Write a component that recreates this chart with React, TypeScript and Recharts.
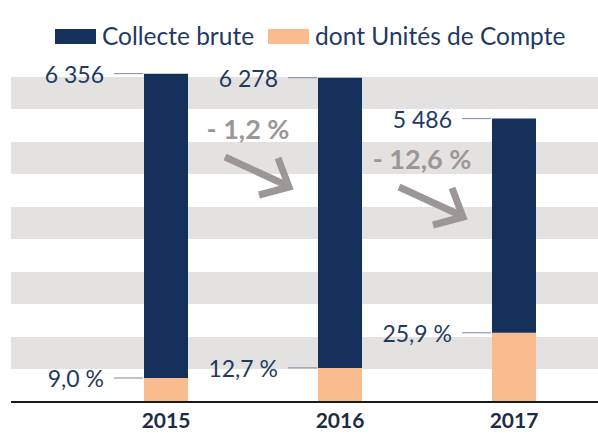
import { Bar, BarChart, CartesianGrid, LabelList, XAxis, YAxis } from 'recharts'

const annees = ['2015', '2016', '2017']
const collecteBrute = [6356, 6278, 5486]
const unitesCompte = [465, 660, 1340]
const partUC = [9.0, 12.7, 25.9]
const variations = ['', '- 1,2 %', '- 12,6 %']
const bandes = [0, 630, 1260, 1890, 2520, 3150, 3780, 4410, 5040, 5670, 6300, 6930]

const MARINE = '#15305a'
const PECHE = '#f9bc8f'
const GRIS_BANDE = '#e4e1e1'
const TEXTE = '#1f3a5f'
const GRIS_FLECHE = '#9c9696'
const POLICE = 'Lato, "DejaVu Sans", sans-serif'

// hauteur (px) du texte de variation pour chaque année
const variationY = [0, 128, 158]

const donnees = annees.map((annee, i) => ({
  annee,
  uc: unitesCompte[i],
  reste: collecteBrute[i] - unitesCompte[i],
}))

function formaterMilliers(n: number) {
  return String(n).replace(/\B(?=(\d{3})+(?!\d))/g, ' ')
}

function formaterPourcent(n: number) {
  return n.toFixed(1).replace('.', ',') + ' %'
}

function EtiquetteGauche({ x, y, texte }: { x: number; y: number; texte: string }) {
  return (
    <g>
      <text
        x={x - 40}
        y={y}
        textAnchor="end"
        dominantBaseline="central"
        fontFamily={POLICE}
        fontSize={23}
        fill={TEXTE}
      >
        {texte}
      </text>
      <line x1={x - 30} x2={x - 1} y1={y} y2={y} stroke="#7d8ba0" strokeWidth={1} />
    </g>
  )
}

function EtiquetteTotal(props: any) {
  const x = Number(props.x)
  const y = Number(props.y)
  const i = props.index as number
  const variation = variations[i]
  const cx = x - 70
  const cy = variationY[i]
  return (
    <g>
      <EtiquetteGauche x={x} y={y} texte={formaterMilliers(collecteBrute[i])} />
      {variation && (
        <g>
          <text
            x={cx}
            y={cy}
            textAnchor="middle"
            dominantBaseline="central"
            fontFamily={POLICE}
            fontWeight={700}
            fontSize={27}
            fill={GRIS_FLECHE}
          >
            {variation}
          </text>
          <line x1={cx - 23} y1={cy + 29} x2={cx + 40} y2={cy + 58} stroke={GRIS_FLECHE} strokeWidth={7} />
          <polyline
            points={`${cx + 30},${cy + 30} ${cx + 41},${cy + 59} ${cx + 11},${cy + 67}`}
            fill="none"
            stroke={GRIS_FLECHE}
            strokeWidth={7}
            strokeLinejoin="miter"
          />
        </g>
      )}
    </g>
  )
}

function EtiquettePart(props: any) {
  const i = props.index as number
  return <EtiquetteGauche x={Number(props.x)} y={Number(props.y)} texte={formaterPourcent(partUC[i])} />
}

function Legende() {
  const item = (couleur: string, libelle: string) => (
    <div style={{ display: 'flex', alignItems: 'center', gap: 6 }}>
      <span style={{ display: 'inline-block', width: 41, height: 15, background: couleur }} />
      <span>{libelle}</span>
    </div>
  )
  return (
    <div
      style={{
        position: 'absolute',
        zIndex: 1,
        left: 55,
        top: 21,
        display: 'flex',
        gap: 14,
        fontFamily: POLICE,
        fontSize: 24.5,
        color: TEXTE,
        lineHeight: '30px',
        whiteSpace: 'nowrap',
      }}
    >
      {item(MARINE, 'Collecte brute')}
      {item(PECHE, 'dont Unités de Compte')}
    </div>
  )
}

export default function App() {
  return (
    <div
      style={{
        position: 'absolute',
        left: 0,
        top: 0,
        width: 598,
        height: 433,
        overflow: 'hidden',
        background: '#fff',
      }}
    >
      <Legende />
      <BarChart width={601} height={433} data={donnees} margin={{ top: 44, right: 0, left: 11, bottom: 1 }}>
        <CartesianGrid vertical={false} stroke="transparent" horizontalFill={['transparent', GRIS_BANDE]} />
        <YAxis hide domain={[0, 6930]} ticks={bandes} interval={0} />
        <XAxis
          dataKey="annee"
          height={30}
          padding={{ left: 68, right: 0 }}
          axisLine={{ stroke: '#1a1a1a', strokeWidth: 2 }}
          tickLine={false}
          tick={{ fontFamily: POLICE, fontSize: 21, fontWeight: 700, fill: '#1d2c44' }}
          tickMargin={5}
        />
        <Bar dataKey="uc" stackId="a" fill={PECHE} barSize={44} isAnimationActive={false}>
          <LabelList dataKey="uc" content={EtiquettePart} />
        </Bar>
        <Bar dataKey="reste" stackId="a" fill={MARINE} barSize={44} isAnimationActive={false}>
          <LabelList dataKey="reste" content={EtiquetteTotal} />
        </Bar>
      </BarChart>
    </div>
  )
}
